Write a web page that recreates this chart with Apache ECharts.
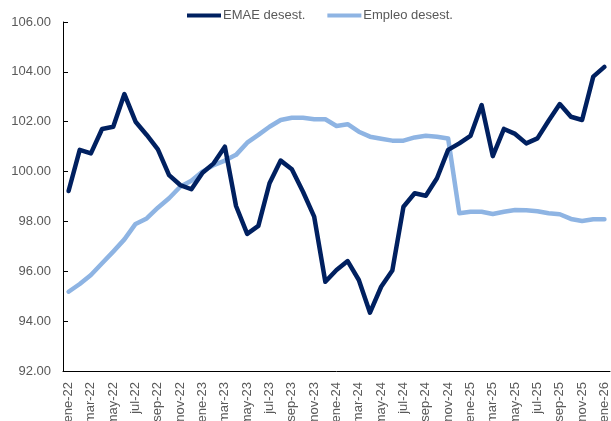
<!DOCTYPE html>
<html>
<head>
<meta charset="utf-8">
<script src="https://cdn.jsdelivr.net/npm/echarts@6/dist/echarts.min.js"></script>
<style>
  html, body { margin: 0; padding: 0; background: #fff; }
  #chart { width: 611px; height: 421px; }
</style>
</head>
<body>
<div id="chart"></div>
<script>
// meses y años del eje x
const months = ['ene', 'feb', 'mar', 'abr', 'may', 'jun', 'jul', 'ago', 'sep', 'oct', 'nov', 'dic']
const years = ['22', '23', '24', '25', '26']
const categories = []
years.forEach(y => {
    months.forEach(m => {
        if (y === '26' && m !== 'ene') return
        categories.push(m + '-' + y)
    })
})

const emae = [99.22, 100.87, 100.73, 101.71, 101.80, 103.11, 102.00, 101.47, 100.89, 99.86, 99.46, 99.29,
    99.95, 100.33, 101.00, 98.62, 97.50, 97.82, 99.53, 100.44, 100.09, 99.19, 98.19, 95.58,
    96.05, 96.41, 95.65, 94.34, 95.38, 96.03, 98.59, 99.13, 99.03, 99.73, 100.87, 101.13,
    101.43, 102.67, 100.62, 101.71, 101.51, 101.13, 101.33, 102.04, 102.71, 102.20, 102.07, 103.81,
    104.20]

const empleo = [95.18, 95.49, 95.85, 96.32, 96.79, 97.28, 97.90, 98.12, 98.55, 98.93, 99.39, 99.63,
    100.00, 100.26, 100.44, 100.67, 101.16, 101.47, 101.80, 102.07, 102.16, 102.16, 102.10, 102.10,
    101.83, 101.90, 101.60, 101.40, 101.32, 101.24, 101.24, 101.37, 101.44, 101.40, 101.33, 98.33,
    98.39, 98.39, 98.30, 98.39, 98.46, 98.45, 98.41, 98.33, 98.29, 98.10, 98.02, 98.09,
    98.09]

const seriesNames = ['EMAE desest.', 'Empleo desest.']
const yMin = 92, yMax = 106, yStep = 2

const font = 'Liberation Sans'
const textColor = '#595959'

let chart = echarts.init(document.getElementById('chart'), null, { renderer: 'canvas' })

let option = {
    backgroundColor: '#fff',
    animation: false,
    legend: {
        data: seriesNames,
        left: 182,
        top: 4,
        icon: 'rect',
        itemWidth: 34,
        itemHeight: 4,
        itemGap: 22,
        textStyle: { fontFamily: font, fontSize: 13, color: textColor, padding: [0, 0, 0, -3] }
    },
    grid: { left: 63, right: 1, top: 22, bottom: 50, outerBoundsMode: 'none', containLabel: false },
    xAxis: {
        type: 'category',
        data: categories,
        boundaryGap: true,
        axisLine: { lineStyle: { color: '#000', width: 1 } },
        axisTick: { inside: true, length: 5, interval: 1, lineStyle: { color: '#000' } },
        axisLabel: {
            interval: 1,
            rotate: 90,
            margin: 11,
            fontFamily: font,
            fontSize: 13,
            color: textColor
        },
        splitLine: { show: false }
    },
    yAxis: {
        type: 'value',
        min: yMin,
        max: yMax,
        interval: yStep,
        axisLine: { show: true, lineStyle: { color: '#000', width: 1 } },
        axisTick: { show: true, inside: true, length: 5, lineStyle: { color: '#000' } },
        axisLabel: {
            margin: 12,
            fontFamily: font,
            fontSize: 13,
            color: textColor,
            formatter: v => v.toFixed(2)
        },
        splitLine: { show: false }
    },
    series: [
        {
            name: seriesNames[0],
            type: 'line',
            data: emae,
            symbol: 'none',
            z: 3,
            itemStyle: { color: '#002060' },
            lineStyle: { color: '#002060', width: 4.5, join: 'round', cap: 'round' }
        },
        {
            name: seriesNames[1],
            type: 'line',
            data: empleo,
            symbol: 'none',
            z: 2,
            itemStyle: { color: '#8EB4E3' },
            lineStyle: { color: '#8EB4E3', width: 4.5, join: 'round', cap: 'round' }
        }
    ]
}

chart.setOption(option)
</script>
</body>
</html>
